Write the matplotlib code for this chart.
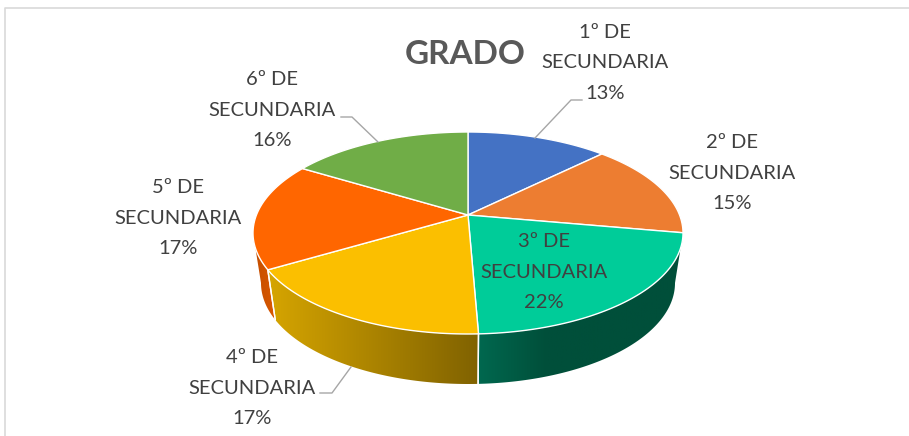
import numpy as np
import matplotlib
matplotlib.use('Agg')
import matplotlib.pyplot as plt
from matplotlib.colors import LinearSegmentedColormap
from matplotlib.patches import Polygon

plt.rcParams['font.family'] = ['Lato', 'DejaVu Sans']

# Data
grades = ['1º DE\nSECUNDARIA', '2º DE\nSECUNDARIA', '3º DE\nSECUNDARIA',
          '4º DE\nSECUNDARIA', '5º DE\nSECUNDARIA', '6º DE\nSECUNDARIA']
shares = [12.6, 15.2, 21.55, 17.15, 17.2, 16.3]
colors = ['#4472C4', '#ED7D31', '#00CC99', '#FBBF00', '#FF6600', '#70AD47']
wall_colors = [None, None, ('#00684F', '#004F3A'), ('#D6A500', '#806200'),
               ('#C24E00', '#DB5800'), None]

label_pos = [(605, 63), (732, 173), (544, 272), (252, 388), (178, 218), (272, 110)]
leaders = [[(535, 138), (571, 100), (582, 100)],
           [(378, 142), (352, 117), (341, 117)],
           [(351, 367), (332, 393), (320, 393)]]

# pie geometry, in pixels of the picture
cx, cy = 468, 233
rx, ry = 215, 101
rx_bottom = 207   # the lower rim is a little narrower
apex_y = 215
depth = 50
squeeze = 0.836   # perspective: slices near the viewer look bigger


def screen_angle(deg):
    # true angle clockwise from the top -> angle on the drawn ellipse
    a = (deg + 180) % 360 - 180
    if abs(abs(a) - 180) < 1e-9:
        return deg
    b = 2 * np.degrees(np.arctan(squeeze * np.tan(np.radians(a) / 2)))
    return b % 360 if deg < 360 else 360.0


def rim(a0, a1, dy=0, r=rx, n=120):
    t = np.radians(np.linspace(a0, a1, n))
    return np.column_stack([cx + r * np.sin(t), cy - ry * np.cos(t) + dy])


fig = plt.figure(figsize=(9.09, 4.36), dpi=100)
ax = fig.add_axes([0, 0, 1, 1])

# chart frame
ax.plot([5, 5, 909], [436, 8, 8], color='#D9D9D9', lw=1.2, zorder=1)

cum = np.cumsum([0] + shares) / sum(shares) * 360
angles = [screen_angle(c) for c in cum[:-1]] + [360.0]

# side walls with a horizontal shading
for i, wc in enumerate(wall_colors):
    if wc is None:
        continue
    a0, a1 = max(angles[i], 90), min(angles[i + 1], 270)
    top = rim(a0, a1)
    bottom = rim(a0, a1, depth, rx_bottom)
    outline = np.vstack([top, bottom[::-1]])
    poly = Polygon(outline, closed=True, fc='none', ec='none', zorder=2)
    ax.add_patch(poly)
    x0, x1 = outline[:, 0].min(), outline[:, 0].max()
    cmap = LinearSegmentedColormap.from_list('w%d' % i, wc)
    grad = np.linspace(0, 1, 256).reshape(1, -1)
    if i == 2:
        # the green wall gets lighter only near its left end
        grad = np.minimum(grad * 3, 1)
    im = ax.imshow(grad, extent=[x0, x1, cy + depth + ry, cy - ry], cmap=cmap,
                   aspect='auto', zorder=2)
    im.set_clip_path(poly)
    # white seam at the wall ends
    for a in (a0, a1):
        if a not in (90, 270):
            p = rim(a, a, 0, rx, 2)[0]
            q = rim(a, a, depth, rx_bottom, 2)[0]
            ax.plot([p[0], q[0]], [p[1], q[1]], color='white', lw=1.0, zorder=3)

# top face
for i, col in enumerate(colors):
    arc = rim(angles[i], angles[i + 1])
    pts = np.vstack([[cx, apex_y], arc])
    ax.add_patch(Polygon(pts, closed=True, fc=col, ec='white', lw=1.0,
                         joinstyle='round', zorder=4))

# leader lines
for line in leaders:
    xs, ys = zip(*line)
    ax.plot(xs, ys, color='#A6A6A6', lw=1.0, zorder=5)

# labels
pct = [round(s / sum(shares) * 100) for s in shares]
for name, p, (x, y) in zip(grades, pct, label_pos):
    ax.text(x, y, '%s\n%d%%' % (name, p), ha='center', va='center', fontsize=14.5,
            color='#404040', linespacing=1.93, zorder=6)

ax.text(465, 55, 'GRADO', ha='center', va='center', fontsize=24, fontweight='bold',
        color='#595959', zorder=6)

ax.set_xlim(0, 909)
ax.set_ylim(436, 0)
ax.axis('off')
fig.savefig('out.png', dpi=100, facecolor='white')
